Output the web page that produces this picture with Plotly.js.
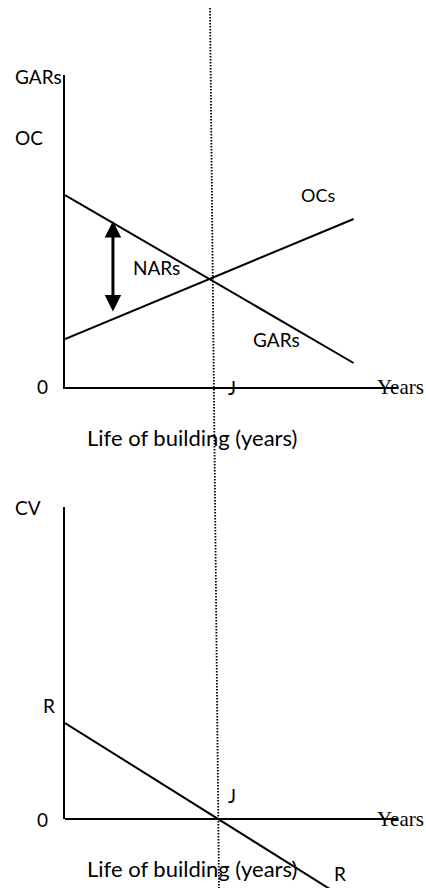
<!DOCTYPE html>
<html>
<head>
<meta charset="utf-8">
<script src="https://cdn.plot.ly/plotly-3.0.1.min.js"></script>
<style>html,body{margin:0;padding:0;background:#fff}#chart{width:426px;height:888px}</style>
</head>
<body>
<div id="chart"></div>
<script>
// ---- data (diagram units) ----
const yearsTop = [0, 19.5];          // life of building (years), top diagram
const garsValues = [19.2, 2.4];      // gross annual returns
const ocsValues = [4.8, 16.8];       // operating costs
const narsX = [3.24];                // NARs arrow position
const narsTop = [16.6];
const narsBottom = [7.4];
const yearsBottom = [0, 18];         // bottom diagram
const cvValues = [9.6, -7.1];        // capital value
const jTop = 10;                     // J on top diagram
const jBottom = 10.34;               // J on bottom diagram

const W = 426, H = 888;
const px = x => x / W;
const py = y => 1 - y / H;

const SANS = 'Lato, "Noto Sans", sans-serif';
const SERIF = '"Liberation Serif", "DejaVu Serif", serif';
const lineStyle = {color: '#000', width: 2};

const traces = [
  {x: yearsTop, y: garsValues, mode: 'lines', line: lineStyle, xaxis: 'x', yaxis: 'y', hoverinfo: 'skip'},
  {x: yearsTop, y: ocsValues, mode: 'lines', line: lineStyle, xaxis: 'x', yaxis: 'y', hoverinfo: 'skip'},
  {x: yearsBottom, y: cvValues, mode: 'lines', line: lineStyle, xaxis: 'x2', yaxis: 'y2', hoverinfo: 'skip'},
  {x: [], y: [], mode: 'lines', xaxis: 'x2', yaxis: 'y3', hoverinfo: 'skip'}
];

function lbl(text, x, y, opts) {
  return Object.assign({
    text: text, x: px(x), y: py(y), xref: 'paper', yref: 'paper',
    showarrow: false, xanchor: 'center', yanchor: 'middle',
    font: {family: SANS, size: 19, color: '#000'}
  }, opts || {});
}

const bareAxis = {showgrid: false, zeroline: false, showticklabels: false, ticks: '', fixedrange: true};
const xDom = [px(65), px(398)];
const bigFont = {family: SANS, size: 22, color: '#000'};

const annotations = [
  // top diagram
  lbl('GARs', 13, 76, {xanchor: 'left'}),
  lbl('OC', 13, 138, {xanchor: 'left'}),
  lbl('OCs', 318, 195, {font: {family: SANS, size: 18, color: '#000'}}),
  lbl('NARs', 156, 267),
  lbl('GARs', 276, 339),
  lbl('0', 42, 387),
  {text: 'J', x: jTop, y: 0, xref: 'x', yref: 'y', xshift: 19, showarrow: false,
   xanchor: 'center', yanchor: 'middle', font: {family: SANS, size: 19, color: '#000'}},
  lbl('Years', 375, 387, {xanchor: 'left', font: {family: SERIF, size: 21, color: '#000'}}),
  lbl('Life of building (years)', 192, 437, {font: bigFont}),
  {text: '', x: narsX[0], y: narsTop[0], ax: narsX[0], ay: narsBottom[0],
   xref: 'x', yref: 'y', axref: 'x', ayref: 'y', showarrow: true,
   arrowhead: 2, startarrowhead: 2, arrowside: 'end+start', arrowwidth: 3,
   arrowsize: 1.1, startarrowsize: 1.1, arrowcolor: '#000', standoff: 0, startstandoff: 0},
  // bottom diagram
  lbl('CV', 13, 507, {xanchor: 'left'}),
  lbl('R', 49, 705),
  {text: 'J', x: jBottom, y: 2.4, xref: 'x2', yref: 'y2', xshift: 14, showarrow: false,
   xanchor: 'center', yanchor: 'middle', font: {family: SANS, size: 19, color: '#000'}},
  lbl('0', 42, 819),
  lbl('Years', 375, 819, {xanchor: 'left', font: {family: SERIF, size: 21, color: '#000'}}),
  lbl('Life of building (years)', 192, 868, {font: bigFont}),
  lbl('R', 340, 873)
];

const layout = {
  width: W, height: H,
  margin: {l: 0, r: 0, t: 0, b: 0},
  paper_bgcolor: '#fff', plot_bgcolor: 'rgba(0,0,0,0)',
  showlegend: false,
  xaxis: Object.assign({}, bareAxis, {domain: xDom, range: [0, 22.5], anchor: 'y',
    showline: true, linecolor: '#000', linewidth: 2}),
  yaxis: Object.assign({}, bareAxis, {domain: [py(387), py(75)], range: [0, 31.2], anchor: 'x',
    showline: true, linecolor: '#000', linewidth: 2}),
  xaxis2: Object.assign({}, bareAxis, {domain: xDom, range: [0, 22.5], anchor: 'y2', showline: false}),
  yaxis2: Object.assign({}, bareAxis, {domain: [0, py(507)], range: [-6.9, 31.2], anchor: 'x2',
    showline: false, zeroline: true, zerolinecolor: '#000', zerolinewidth: 2}),
  yaxis3: Object.assign({}, bareAxis, {domain: [py(819), py(507)], range: [0, 31.2], anchor: 'x2',
    showline: true, linecolor: '#000', linewidth: 2}),
  shapes: [
    {type: 'line', xref: 'paper', yref: 'paper', x0: px(210), y0: py(8), x1: px(219), y1: py(888),
     line: {color: '#000', width: 1.8, dash: '1.5px,1.5px'}, layer: 'above'}
  ],
  annotations: annotations
};

Plotly.newPlot('chart', traces, layout, {staticPlot: true, displayModeBar: false});
</script>
</body>
</html>
